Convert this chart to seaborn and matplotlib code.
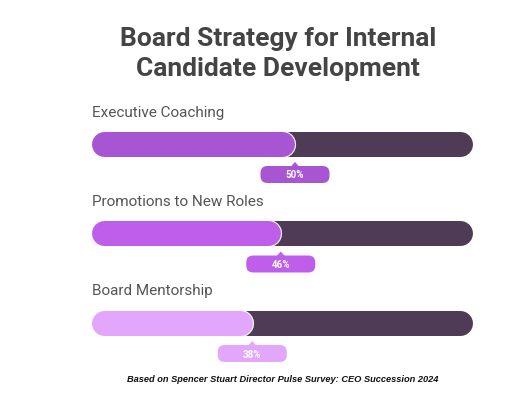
import matplotlib
matplotlib.use("Agg")
import matplotlib.pyplot as plt
import matplotlib.patheffects as pe
from matplotlib.patches import FancyBboxPatch, Polygon
import seaborn as sns

categories = ["Executive Coaching", "Promotions to New Roles", "Board Mentorship"]
values = [50, 46, 38]
value_labels = ["50%", "46%", "38%"]
fill_colors = ["#A855D4", "#C05EEC", "#E2A6FC"]
track_color = "#4F3B56"
title = "Board Strategy for Internal\nCandidate Development"
footer = "Based on Spencer Stuart Director Pulse Survey: CEO Succession 2024"

sns.set_theme(style="white")
plt.rcParams["font.family"] = ["Roboto", "DejaVu Sans"]

W, H, DPI = 512, 406, 100
fig = plt.figure(figsize=(W / DPI, H / DPI), dpi=DPI)
fig.patch.set_facecolor("white")
ax = fig.add_axes([0, 0, 1, 1])
ax.set_axis_off()

# scale: 100% spans 356 px starting at x=104.5 px; rows 89.5 px apart, first at y=144.5 px
px_per_unit = 3.56
row_px = 89.5
ax.set_xlim(-104.5 / px_per_unit, (W - 104.5) / px_per_unit)
ax.set_ylim((H - 144.5) / row_px, -144.5 / row_px)

sx = 1 / px_per_unit   # data x per pixel
sy = 1 / row_px        # data y per pixel
bar_px = 25
lw = bar_px * 72 / DPI

for i, (cat, v, lab, col) in enumerate(zip(categories, values, value_labels, fill_colors)):
    # track
    ax.plot([0, 100], [i, i], color=track_color, lw=lw, solid_capstyle="round", zorder=1)
    # fill
    ax.plot([0, v], [i, i], color=col, lw=lw, solid_capstyle="round", zorder=2,
            path_effects=[pe.Stroke(linewidth=lw + 1.6, foreground="white"), pe.Normal()])
    # category label
    ax.text(-12.5 * sx, i - 32 * sy, cat, ha="left", va="center", fontsize=11,
            color="#555555", zorder=3)
    # value label box
    cx = v + 12.5 * sx
    cy = i + 31 * sy
    bw, bh = 69 * sx, 17 * sy
    box = FancyBboxPatch((cx - bw / 2, cy - bh / 2), bw, bh,
                         boxstyle=f"round,pad=0,rounding_size={7 * sx}",
                         mutation_aspect=sy / sx, facecolor=col, edgecolor="none", zorder=3)
    ax.add_patch(box)
    tri = Polygon([[cx - 4 * sx, cy - bh / 2 + 0.5 * sy], [cx + 4 * sx, cy - bh / 2 + 0.5 * sy],
                   [cx, cy - bh / 2 - 4 * sy]], closed=True, facecolor=col,
                  edgecolor="none", zorder=3)
    ax.add_patch(tri)
    ax.text(cx, cy, lab, ha="center", va="center", fontsize=7, fontweight="bold",
            color="white", zorder=4)

fig.text(278 / W, 1 - 54 / H, title, ha="center", va="center", fontsize=19,
         fontweight="bold", color="#444444", linespacing=1.3)
fig.text(283 / W, 1 - 380 / H, footer, ha="center", va="center", fontsize=6.7,
         fontweight="bold", fontstyle="italic", color="#111111",
         family=["Liberation Sans", "DejaVu Sans"])

fig.savefig("out.png", dpi=DPI, facecolor="white")
